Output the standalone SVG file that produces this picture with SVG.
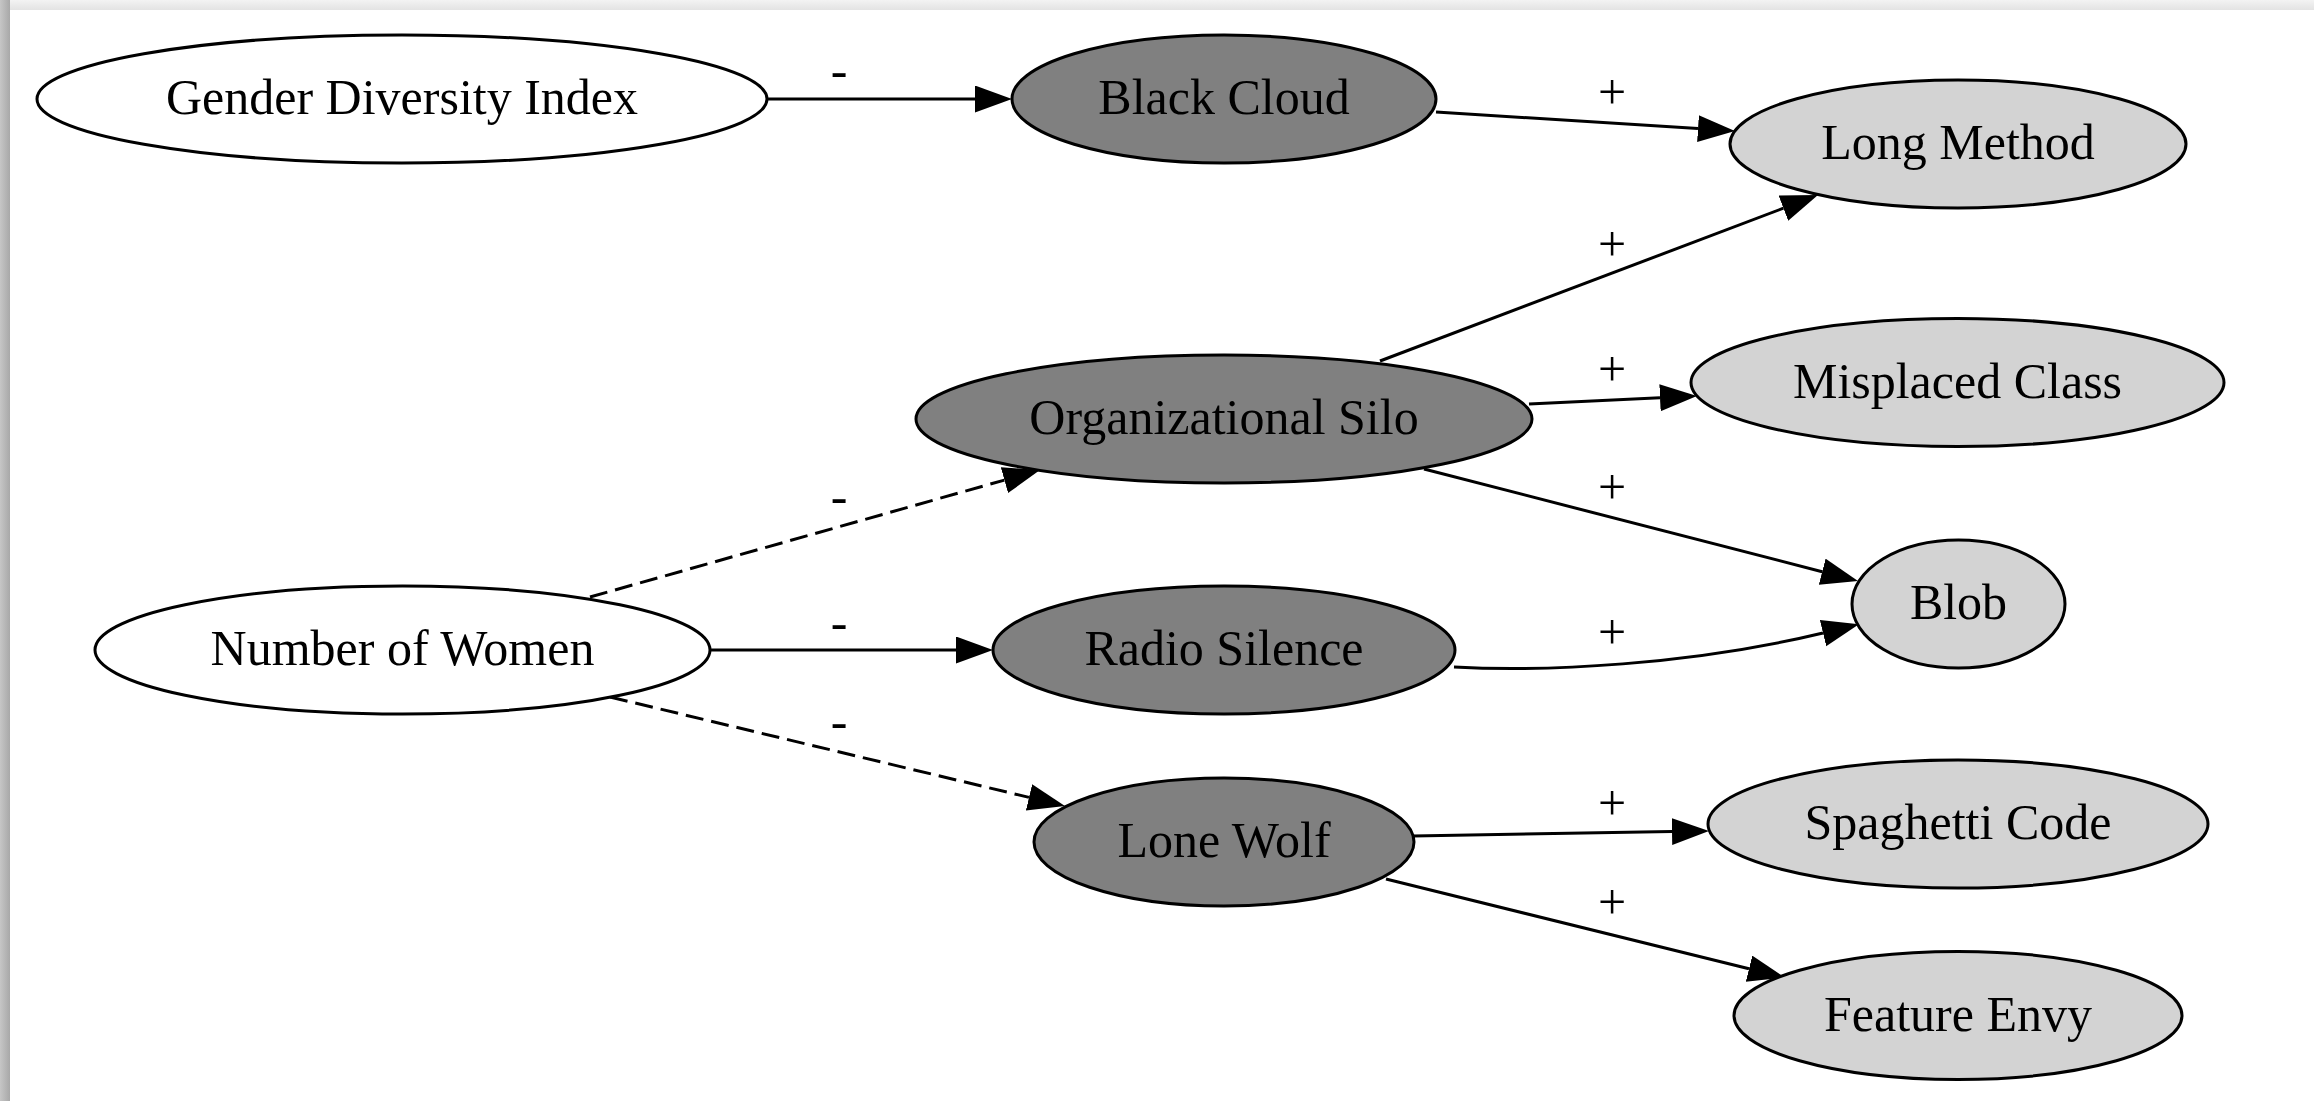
<svg xmlns="http://www.w3.org/2000/svg" width="2314" height="1101" viewBox="0 0 2314 1101">
  <defs>
    <linearGradient id="gTop" x1="0" y1="0" x2="0" y2="1">
      <stop offset="0" stop-color="#f3f3f3"/>
      <stop offset="1" stop-color="#e3e3e3"/>
    </linearGradient>
    <linearGradient id="gLeft" x1="0" y1="0" x2="1" y2="0">
      <stop offset="0" stop-color="#c6c6c6"/>
      <stop offset="1" stop-color="#a8a8a8"/>
    </linearGradient>
    <marker id="arr" markerUnits="userSpaceOnUse" markerWidth="40" markerHeight="30" refX="0" refY="13.5" orient="auto">
      <path d="M0,0 L37,13.5 L0,27 Z" fill="#000"/>
    </marker>
  </defs>
  <style>
    .node ellipse { stroke: #000; stroke-width: 3; }
    .white { fill: #ffffff; }
    .dark { fill: #808080; }
    .light { fill: #d3d3d3; }
    text { font-family: "Liberation Serif", "Times New Roman", serif; font-size: 50px; fill: #000; text-anchor: middle; }
    .edge { fill: none; stroke: #000; stroke-width: 3; marker-end: url(#arr); }
    .dashed { stroke-dasharray: 18 8; }
  </style>

  <rect x="0" y="0" width="2314" height="1101" fill="#ffffff"/>
  <rect x="0" y="0" width="2314" height="10" fill="url(#gTop)"/>
  <rect x="0" y="0" width="10" height="1101" fill="url(#gLeft)"/>

  <g id="connectors">
    <path class="edge" d="M767,99 L975,99"/>
    <path class="edge" d="M1436,112 L1698,128.6"/>
    <path class="edge" d="M1380,361 L1783.4,208.2"/>
    <path class="edge" d="M1529,404 L1660,397.7"/>
    <path class="edge" d="M1424,469 L1822.2,571.7"/>
    <path class="edge" d="M1454,667 C1545,672 1690,665 1823,633"/>
    <path class="edge dashed" d="M590,597 L1004.4,480.1"/>
    <path class="edge" d="M710,650 L956,650"/>
    <path class="edge dashed" d="M610,697 L1029,797.4"/>
    <path class="edge" d="M1413,836 L1672,831.6"/>
    <path class="edge" d="M1386,879 L1749,968.7"/>
  </g>

  <g id="edge-labels">
    <text x="839" y="87">-</text>
    <text x="1612" y="109">+</text>
    <text x="1612" y="261">+</text>
    <text x="1612" y="386">+</text>
    <text x="1612" y="504">+</text>
    <text x="1612" y="649">+</text>
    <text x="839" y="513">-</text>
    <text x="839" y="639">-</text>
    <text x="839" y="738">-</text>
    <text x="1612" y="820">+</text>
    <text x="1612" y="919">+</text>
  </g>

  <g id="node-gender-diversity-index" class="node">
    <ellipse class="white" cx="402" cy="99" rx="365" ry="64"/>
    <text x="402" y="114">Gender Diversity Index</text>
  </g>
  <g id="node-black-cloud" class="node">
    <ellipse class="dark" cx="1224" cy="99" rx="212" ry="64"/>
    <text x="1224" y="114">Black Cloud</text>
  </g>
  <g id="node-long-method" class="node">
    <ellipse class="light" cx="1958" cy="144" rx="228" ry="64"/>
    <text x="1958" y="159">Long Method</text>
  </g>
  <g id="node-organizational-silo" class="node">
    <ellipse class="dark" cx="1224" cy="419" rx="308" ry="64"/>
    <text x="1224" y="434">Organizational Silo</text>
  </g>
  <g id="node-misplaced-class" class="node">
    <ellipse class="light" cx="1957.5" cy="382.5" rx="266.5" ry="64"/>
    <text x="1957.5" y="397.5">Misplaced Class</text>
  </g>
  <g id="node-number-of-women" class="node">
    <ellipse class="white" cx="402.5" cy="650" rx="307.5" ry="64"/>
    <text x="402.5" y="665">Number of Women</text>
  </g>
  <g id="node-radio-silence" class="node">
    <ellipse class="dark" cx="1224" cy="650" rx="231" ry="64"/>
    <text x="1224" y="665">Radio Silence</text>
  </g>
  <g id="node-blob" class="node">
    <ellipse class="light" cx="1958.5" cy="604" rx="106.5" ry="64"/>
    <text x="1958.5" y="619">Blob</text>
  </g>
  <g id="node-lone-wolf" class="node">
    <ellipse class="dark" cx="1224" cy="842" rx="190" ry="64"/>
    <text x="1224" y="857">Lone Wolf</text>
  </g>
  <g id="node-spaghetti-code" class="node">
    <ellipse class="light" cx="1958" cy="824" rx="250" ry="64"/>
    <text x="1958" y="839">Spaghetti Code</text>
  </g>
  <g id="node-feature-envy" class="node">
    <ellipse class="light" cx="1958" cy="1015.5" rx="224" ry="64"/>
    <text x="1958" y="1030.5">Feature Envy</text>
  </g>
</svg>
